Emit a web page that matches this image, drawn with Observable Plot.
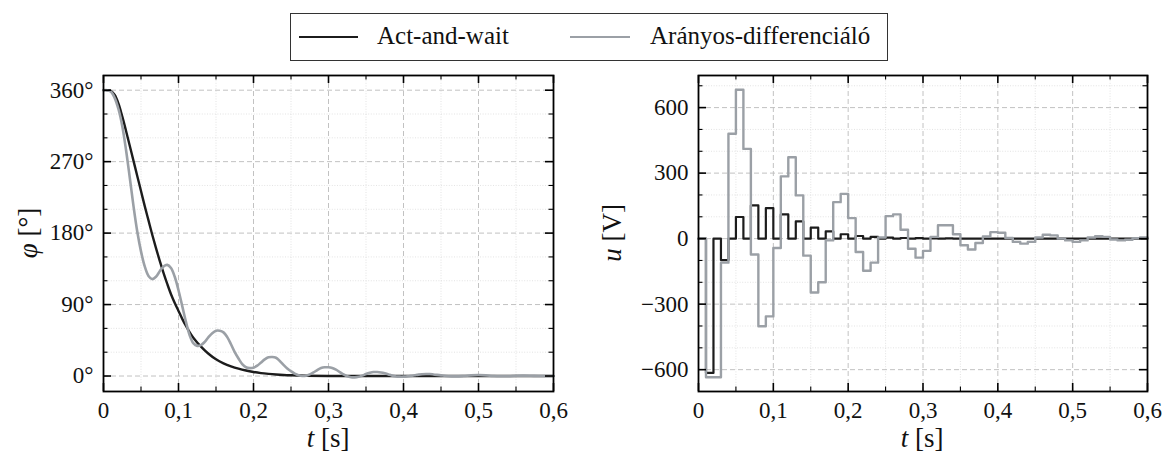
<!DOCTYPE html>
<html><head><meta charset="utf-8">
<script src="https://cdn.jsdelivr.net/npm/d3@7"></script>
<script src="https://cdn.jsdelivr.net/npm/@observablehq/plot@0.6"></script>
<style>
body{margin:0;background:#fff;font-family:"Liberation Serif","Times New Roman",serif;}
#wrap{position:relative;width:1164px;height:455px;overflow:hidden;background:#fff;}
#legend{position:absolute;left:290px;top:13px;width:598px;height:48px;border:1.6px solid #333;box-sizing:border-box;font-size:25px;color:#111;}
#legend .sw{position:absolute;top:22px;height:0;border-top:2.6px solid;}
#legend .tx{position:absolute;top:7px;line-height:29px;white-space:nowrap;}
.pl{position:absolute;top:60px;}
</style></head>
<body><div id="wrap">
<div id="legend">
  <div class="sw" style="left:8px;width:59px;border-color:#1c1c1c"></div><div class="tx" style="left:86px">Act-and-wait</div>
  <div class="sw" style="left:279px;width:60px;border-color:#9ba0a6"></div><div class="tx" style="left:359px">Arányos-differenciáló</div>
</div>
</div>
<script>
// ---- Data ----
// Left panel: angle phi [deg] vs time t [s]
const phiAWt = [0,0.005,0.01,0.015,0.02,0.025,0.03,0.035,0.04,0.045,0.05,0.055,0.06,0.065,0.07,0.075,0.08,0.085,0.09,0.095,0.10,0.105,0.11,0.115,0.12,0.13,0.14,0.15,0.16,0.17,0.18,0.19,0.20,0.21,0.22,0.23,0.24,0.25,0.27,0.30,0.35,0.45,0.6];
const phiAW  = [360,360,359,354,343,327,309,290,271,252,233,214,196,178,161,145,130,116,103,92,82,72,63,55,48,37,28,21,16,12.2,9.2,6.9,5.1,3.7,2.7,1.9,1.3,0.9,0.35,0.1,0,0,0];
const phiPDt = [0,0.005,0.01,0.015,0.02,0.025,0.03,0.035,0.04,0.045,0.05,0.055,0.06,0.065,0.07,0.075,0.08,0.085,0.09,0.095,0.10,0.105,0.11,0.115,0.12,0.125,0.13,0.135,0.14,0.145,0.15,0.155,0.16,0.165,0.17,0.175,0.18,0.185,0.19,0.195,0.20,0.205,0.21,0.215,0.22,0.225,0.23,0.235,0.24,0.245,0.25,0.255,0.26,0.265,0.27,0.275,0.28,0.285,0.29,0.295,0.30,0.305,0.31,0.315,0.32,0.325,0.33,0.335,0.34,0.345,0.35,0.355,0.36,0.365,0.37,0.375,0.38,0.385,0.39,0.395,0.40,0.405,0.41,0.415,0.42,0.43,0.435,0.44,0.45,0.46,0.47,0.48,0.49,0.50,0.51,0.52,0.53,0.54,0.55,0.56,0.57,0.58,0.6];
const phiPD  = [360,360,358,350,336,315,285,250,214,182,157,138,126,122,125,132,138,140,136,125,108,88,68,51,41,38,39,43,49,54,57,57,55,49,40,30,22,15,11,10,10.5,13,17,21,23.5,24,23,19,14,9.5,6,3,1,0,0.3,2,4.5,7.5,10,11,11,10,8,5,2,-0.3,-1.5,-1.7,-1,0.5,2.5,4,5,5,4.5,3.5,2,0.5,-0.5,-0.8,-0.8,-0.5,0.2,1,1.8,2.5,2.5,2,0.8,-0.2,-0.5,0,0.8,1.2,0.8,0,-0.3,-0.2,0.3,0.5,0.3,0,0];
// Right panel: control voltage u [V], zero-order hold, sample period 0.01 s (k = 0..59)
const uSamplePeriod = 0.01;
const uAW = [0,-615,0,-98,0,99,0,152,0,140,0,111,0,79,0,50,0,33,0,20,0,12,0,8,0,5,0,3,0,2,0,1,0,1,0,0,0,0,0,0,0,0,0,0,0,0,0,0,0,0,0,0,0,0,0,0,0,0,0,0];
const uPD = [0,-635,-635,-110,480,682,411,-73,-401,-356,-43,285,373,198,-78,-247,-200,-8,167,205,94,-61,-147,-110,5,103,111,41,-46,-87,-56,8,61,61,20,-30,-50,-20,10,30,27,3,-15,-23,-15,5,18,15,0,-8,-15,-8,5,11,8,-4,-8,-5,2,5];
// Ticks
const xMajor = [0,0.1,0.2,0.3,0.4,0.5,0.6];
const xMinor = [0.05,0.15,0.25,0.35,0.45,0.55];
const phiMajor = [0,90,180,270,360];
const phiMinor = [30,60,120,150,210,240,300,330];
const uMajor = [-600,-300,0,300,600];
const uMinor = [-500,-400,-200,-100,100,200,400,500,700];
const seriesNames = ["Act-and-wait","Arányos-differenciáló"];

// ---- helpers ----
const FONT = "'Liberation Serif', 'Times New Roman', serif";
const BLACK = "#1c1c1c", GRAY = "#9ba0a6";
const toPts = (ts, vs) => ts.map((t,i)=>({t, v:vs[i]}));
const toSteps = (vs) => { const a = vs.map((v,k)=>({t:k*uSamplePeriod, v})); a.push({t:vs.length*uSamplePeriod, v:vs[vs.length-1]}); return a; };
const fmtX = d => d===0 ? "0" : d.toFixed(1).replace(".", ",");
const H = 395, MT = 15, MB = 64, FH = H - MT - MB;

function panel({width, ml, mr, ydomain, yMajor, yMinor, yFmt, lines, curve}) {
  const FW = width - ml - mr;
  const gridMinor = {stroke:"#dcdcdc", strokeOpacity:1, strokeWidth:0.8, strokeDasharray:"1,1.6"};
  const gridMajor = {stroke:"#c2c2c2", strokeOpacity:1, strokeWidth:1, strokeDasharray:"5,3"};
  return Plot.plot({
    width, height:H, marginLeft:ml, marginRight:mr, marginTop:MT, marginBottom:MB,
    x:{domain:[0,0.6]}, y:{domain:ydomain},
    style:{fontFamily:FONT, color:"#111", background:"transparent"},
    marks:[
      Plot.gridX(xMinor, gridMinor),
      Plot.gridY(yMinor, gridMinor),
      Plot.gridX(xMajor, gridMajor),
      Plot.gridY(yMajor, gridMajor),
      ...lines.map(([data, stroke, sw]) => Plot.line(data, {x:"t", y:"v", stroke, strokeWidth:sw, curve})),
      Plot.ruleX(xMajor, {insetTop:FH-8, stroke:"black", strokeWidth:1.6}),
      Plot.ruleX(xMajor, {insetBottom:FH-8, stroke:"black", strokeWidth:1.6}),
      Plot.ruleX(xMinor, {insetTop:FH-4.5, stroke:"black", strokeWidth:1.1}),
      Plot.ruleX(xMinor, {insetBottom:FH-4.5, stroke:"black", strokeWidth:1.1}),
      Plot.ruleY(yMajor, {insetRight:FW-8, stroke:"black", strokeWidth:1.6}),
      Plot.ruleY(yMajor, {insetLeft:FW-8, stroke:"black", strokeWidth:1.6}),
      Plot.ruleY(yMinor, {insetRight:FW-4.5, stroke:"black", strokeWidth:1.1}),
      Plot.ruleY(yMinor, {insetLeft:FW-4.5, stroke:"black", strokeWidth:1.1}),
      Plot.frame({stroke:"black", strokeWidth:1.8}),
      Plot.axisX(xMajor, {tickSize:0, tickPadding:10, tickFormat:fmtX, fontSize:23, fontFamily:FONT, label:null}),
      Plot.axisY(yMajor, {tickSize:0, tickPadding:10, tickFormat:yFmt, fontSize:23, fontFamily:FONT, label:null})
    ]
  });
}

function addLabel(svg, x, y, parts, rotate) {
  const t = d3.select(svg).append("text")
    .attr("text-anchor","middle").attr("font-size",27).attr("fill","#111")
    .attr("font-family", FONT)
    .attr("transform", `translate(${x},${y})` + (rotate ? " rotate(-90)" : ""));
  parts.forEach(([s, it]) => t.append("tspan").attr("font-style", it ? "italic" : "normal").text(s));
}

const left = panel({width:580, ml:103, mr:27, ydomain:[-19.5,378.5], yMajor:phiMajor, yMinor:phiMinor,
  yFmt:d=>d+"°", curve:"catmull-rom",
  lines:[[toPts(phiAWt, phiAW), BLACK, 2.4],[toPts(phiPDt, phiPD), GRAY, 2.6]]});
const right = panel({width:584, ml:118, mr:17, ydomain:[-700,747], yMajor:uMajor, yMinor:uMinor,
  yFmt:d=>String(d).replace("-", "\u2212"), curve:"step-after",
  lines:[[toSteps(uAW), BLACK, 2.2],[toSteps(uPD), GRAY, 2.4]]});

addLabel(left, 328, 387, [["t",true],[" [s]",false]]);
addLabel(left, 37, 173, [["φ",true],[" [°]",false]], true);
addLabel(right, 342, 387, [["t",true],[" [s]",false]]);
addLabel(right, 41, 173, [["u",true],[" [V]",false]], true);

left.classList.add("pl"); left.style.left = "0px";
right.classList.add("pl"); right.style.left = "580px";
const wrap = document.getElementById("wrap");
wrap.appendChild(left); wrap.appendChild(right);
</script>
</body></html>
